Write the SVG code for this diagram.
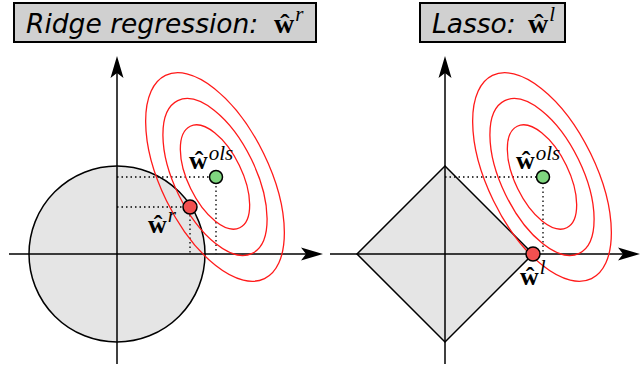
<svg xmlns="http://www.w3.org/2000/svg" width="642" height="369" viewBox="0 0 642 369">
<style>
.title{font-family:"DejaVu Sans",sans-serif;font-style:italic;font-size:26.5px;fill:#000}
.box{fill:#d0d0d0;stroke:#000;stroke-width:2}
.region{fill:#e5e5e5;stroke:#000;stroke-width:1.5}
.axis{stroke:#000;stroke-width:1.5;fill:none}
.dot{stroke:#000;stroke-width:1.3;stroke-dasharray:1.5 3;fill:none}
.ell{fill:none;stroke:#ff1a1a;stroke-width:1.3}
.green{fill:#7fd67f;stroke:#000;stroke-width:1.5}
.red{fill:#f25050;stroke:#000;stroke-width:1.5}
.w{font-family:"Liberation Serif","DejaVu Serif",serif;font-weight:bold;font-size:26px;fill:#000}
.tw{font-size:28px}
.sup{font-family:"Liberation Serif","DejaVu Serif",serif;font-style:italic;font-weight:normal;font-size:21px}
</style>
<defs>
<path id="ah" d="M0,0 L-22,-6.5 L-17,0 L-22,6.5 Z" fill="#000"/>
<g id="ellipses">
<ellipse class="ell" cx="0" cy="0" rx="113" ry="54" transform="rotate(64)"/>
<ellipse class="ell" cx="0" cy="0" rx="85" ry="40.5" transform="rotate(64)"/>
<ellipse class="ell" cx="0" cy="0" rx="56.5" ry="27" transform="rotate(64)"/>
</g>
</defs>

<g id="title-ridge">
<rect class="box" x="14" y="3" width="302" height="39"/>
<text class="title" x="26" y="33">Ridge regression:</text>
<text class="w tw" x="274" y="33">ŵ<tspan class="sup" dx="1" dy="-12">r</tspan></text>
</g>
<g id="title-lasso">
<rect class="box" x="420" y="3" width="145" height="39"/>
<text class="title" x="432" y="33">Lasso:</text>
<text class="w tw" x="528" y="33">ŵ<tspan class="sup" dx="1" dy="-12">l</tspan></text>
</g>

<g id="ridge-region">
<circle class="region" cx="117" cy="254" r="88"/>
</g>
<g id="lasso-region">
<path class="region" d="M445,166 L533,254 L445,342 L357,254 Z"/>
</g>

<g id="connectors">
<line class="axis" x1="9" y1="254" x2="310" y2="254"/>
<use href="#ah" transform="translate(323,254)"/>
<line class="axis" x1="117" y1="364" x2="117" y2="70"/>
<use href="#ah" transform="translate(117,56) rotate(-90)"/>
<line class="axis" x1="330" y1="254" x2="627" y2="254"/>
<use href="#ah" transform="translate(640,254)"/>
<line class="axis" x1="445" y1="364" x2="445" y2="70"/>
<use href="#ah" transform="translate(445,56) rotate(-90)"/>
<path class="dot" d="M117,177 H216 V254"/>
<path class="dot" d="M117,207 H190 V254"/>
<path class="dot" d="M445,177 H543 V254"/>
</g>

<g id="ridge-contours">
<use href="#ellipses" transform="translate(215,177)"/>
</g>
<g id="lasso-contours">
<use href="#ellipses" transform="translate(542,177)"/>
</g>

<g id="ridge-ols">
<circle class="green" cx="216" cy="177" r="6.5"/>
<text class="w" x="189" y="169">ŵ<tspan class="sup" dx="1" dy="-9">ols</tspan></text>
</g>
<g id="ridge-solution">
<circle class="red" cx="190" cy="207" r="7"/>
<text class="w" x="148" y="233">ŵ<tspan class="sup" dx="1" dy="-11">r</tspan></text>
</g>
<g id="lasso-ols">
<circle class="green" cx="543" cy="177" r="6.5"/>
<text class="w" x="516" y="169">ŵ<tspan class="sup" dx="1" dy="-9">ols</tspan></text>
</g>
<g id="lasso-solution">
<circle class="red" cx="533" cy="254" r="7"/>
<text class="w" x="520" y="285">ŵ<tspan class="sup" dx="1" dy="-11">l</tspan></text>
</g>
</svg>
